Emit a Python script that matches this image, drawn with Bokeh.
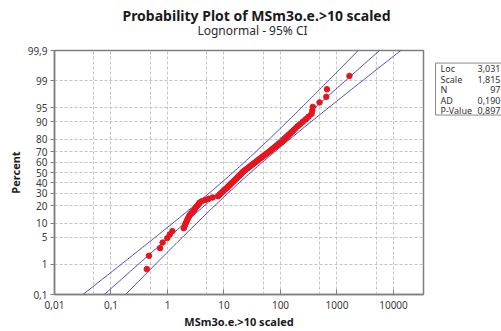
from statistics import NormalDist
import numpy as np
from bokeh.plotting import figure
from bokeh.layouts import column, row
from bokeh.models import Range1d, FixedTicker, CustomJSTickFormatter
from bokeh.core.properties import value
from bokeh.embed import file_html
from bokeh.resources import INLINE

TITLE = "Probability Plot of MSm3o.e.>10 scaled"
SUBTITLE = "Lognormal - 95% CI"
X_LABEL = "MSm3o.e.>10 scaled"
Y_LABEL = "Percent"

# fitted parameters shown in the stats box
loc = 3.031
scale = 1.815
n_obs = 97
stat_names = ["Loc", "Scale", "N", "AD", "P-Value"]
stat_values = ["3,031", "1,815", "97", "0,190", "0,897"]

# ordered sample values
x_values = [0.43, 0.47, 0.74, 0.82, 0.99, 1.10, 1.22, 1.94, 2.02, 2.10,
            2.19, 2.28, 2.38, 2.47, 2.63, 2.79, 2.97, 3.09, 3.22, 3.42,
            3.57, 3.71, 4.03, 4.64, 5.35, 6.29, 7.83, 8.23, 8.64, 9.11,
            9.57, 10.0, 10.5, 11.1, 11.6, 12.1, 12.7, 13.2, 13.8, 14.5,
            15.1, 15.8, 16.5, 17.2, 17.9, 18.8, 19.6, 20.4, 20.9, 22.0,
            23.2, 24.4, 25.9, 27.3, 28.8, 30.3, 32.2, 34.0, 36.0, 37.9,
            40.1, 42.3, 45.0, 47.6, 50.4, 53.7, 56.9, 60.7, 64.5, 68.9,
            72.8, 78.0, 83.3, 89.3, 95.3, 102, 110, 117, 124, 132,
            140, 150, 161, 172, 186, 202, 224, 248, 281, 314,
            355, 365, 372, 491, 646, 664, 1660]

# plotting positions (percent, median ranks)
percent_values = [0.72, 1.75, 2.77, 3.80, 4.83, 5.85, 6.88, 7.91, 8.93, 9.96,
                  10.99, 12.01, 13.04, 14.07, 15.09, 16.12, 17.15, 18.17, 19.20, 20.23,
                  21.25, 22.28, 23.31, 24.33, 25.36, 26.39, 27.41, 28.44, 29.47, 30.49,
                  31.52, 32.55, 33.57, 34.60, 35.63, 36.65, 37.68, 38.71, 39.73, 40.76,
                  41.79, 42.81, 43.84, 44.87, 45.89, 46.92, 47.95, 48.97, 50.00, 51.03,
                  52.05, 53.08, 54.11, 55.13, 56.16, 57.19, 58.21, 59.24, 60.27, 61.29,
                  62.32, 63.35, 64.37, 65.40, 66.43, 67.45, 68.48, 69.51, 70.53, 71.56,
                  72.59, 73.61, 74.64, 75.67, 76.69, 77.72, 78.75, 79.77, 80.80, 81.83,
                  82.85, 83.88, 84.91, 85.93, 86.96, 87.99, 89.01, 90.04, 91.07, 92.09,
                  93.12, 94.15, 95.17, 96.20, 97.23, 98.25, 99.28]

y_tick_percents = [0.1, 1, 5, 10, 20, 30, 40, 50, 60, 70, 80, 90, 95, 99, 99.9]
y_tick_labels = ["0,1", "1", "5", "10", "20", "30", "40", "50", "60", "70",
                 "80", "90", "95", "99", "99,9"]
x_tick_values = [0.01, 0.1, 1, 10, 100, 1000, 10000]
x_tick_labels = ["0,01", "0,1", "1", "10", "100", "1000", "10000"]
x_grid_values = [0.05, 0.1, 0.5, 1, 5, 10, 50, 100, 500, 1000, 5000, 10000]

nd = NormalDist()


def probit(pct):
    return nd.inv_cdf(pct / 100.0)


FONT = "Noto Sans"
LINE_COLOR = "#4b4bc4"
FRAME_COLOR = "#7f7f7f"

W, H = 501, 331
TOP_H = 40               # height of the title strip
FL, FR, FT, FB = 54, 423, 50, 294   # frame in canvas px
MAIN_W = FR + 10
SIDE_W = W - MAIN_W
BODY_H = H - TOP_H

# ---------------- title strip ----------------
t = figure(width=W, height=TOP_H, x_range=Range1d(0, W), y_range=Range1d(TOP_H, 0),
           output_backend="svg", toolbar_location=None, title=None,
           min_border=0, x_axis_type=None, y_axis_type=None)
t.outline_line_color = None
t.background_fill_color = "white"
t.border_fill_color = "white"
t.grid.visible = False
t.text(x=[256], y=[15], text=[TITLE], text_font=value(FONT), text_font_size="14px",
       text_font_style="bold", text_color="#1a1a1a", text_align="center",
       text_baseline="middle")
t.text(x=[252], y=[30], text=[SUBTITLE], text_font=value(FONT), text_font_size="12px",
       text_color="#2a2a2a", text_align="center", text_baseline="middle")

# ---------------- main probability plot ----------------
z_lo, z_hi = probit(y_tick_percents[0]), probit(y_tick_percents[-1])

p = figure(width=MAIN_W, height=BODY_H, x_axis_type="log",
           x_range=Range1d(0.01, 10 ** 4.531), y_range=Range1d(z_lo, z_hi),
           output_backend="svg", toolbar_location=None, title=None,
           min_border_left=FL, min_border_right=MAIN_W - FR,
           min_border_top=FT - TOP_H, min_border_bottom=H - FB)
p.background_fill_color = "white"
p.border_fill_color = "white"
p.outline_line_color = FRAME_COLOR
p.outline_line_width = 1.5

p.xaxis.ticker = FixedTicker(ticks=x_tick_values)
p.xaxis.formatter = CustomJSTickFormatter(
    args=dict(tvals=x_tick_values, tlabels=x_tick_labels),
    code="""
let best = 0;
for (let i = 0; i < tvals.length; i++) {
  if (Math.abs(Math.log10(tvals[i]) - Math.log10(tick)) <
      Math.abs(Math.log10(tvals[best]) - Math.log10(tick))) best = i;
}
return tlabels[best];
""")
y_ticks = [probit(v) for v in y_tick_percents]
p.yaxis.ticker = FixedTicker(ticks=y_ticks)
p.yaxis.formatter = CustomJSTickFormatter(
    args=dict(tvals=y_ticks, tlabels=y_tick_labels),
    code="""
let best = 0;
for (let i = 0; i < tvals.length; i++) {
  if (Math.abs(tvals[i] - tick) < Math.abs(tvals[best] - tick)) best = i;
}
return tlabels[best];
""")

for ax in (p.xaxis[0], p.yaxis[0]):
    ax.axis_line_color = FRAME_COLOR
    ax.axis_line_width = 1.5
    ax.major_tick_line_color = FRAME_COLOR
    ax.minor_tick_line_color = None
    ax.major_label_text_font = FONT
    ax.major_label_text_font_size = "10px"
    ax.major_label_text_color = "#3a3a3a"
    ax.axis_label_text_font = FONT
    ax.axis_label_text_font_size = "11px"
    ax.axis_label_text_font_style = "bold"
    ax.axis_label_text_color = "#1a1a1a"

p.xaxis.axis_label = X_LABEL
p.yaxis.axis_label = Y_LABEL
p.xaxis.major_tick_in = 5
p.xaxis.major_tick_out = 0
p.xaxis.major_label_standoff = 6
p.xaxis.axis_label_standoff = 2
p.yaxis.major_tick_in = 0
p.yaxis.major_tick_out = 4
p.yaxis.major_label_standoff = 3
p.yaxis.axis_label_standoff = 2

p.xgrid.ticker = FixedTicker(ticks=x_grid_values)
p.ygrid.ticker = FixedTicker(ticks=[probit(v) for v in y_tick_percents[1:-1]])
for g in (p.xgrid[0], p.ygrid[0]):
    g.grid_line_color = "#c4c4c4"
    g.grid_line_dash = "3 2"
    g.grid_line_width = 1

# fitted line and 95% confidence bounds from the parameters
zz = np.linspace(-3.6, 3.6, 145)
ln_fit = loc + scale * zz
se = scale * np.sqrt(1.0 / n_obs + zz ** 2 / (2.0 * n_obs))
zc = nd.inv_cdf(0.975)
p.line(np.exp(ln_fit), zz, line_color=LINE_COLOR, line_width=1)
p.line(np.exp(ln_fit - zc * se), zz, line_color=LINE_COLOR, line_width=1)
p.line(np.exp(ln_fit + zc * se), zz, line_color=LINE_COLOR, line_width=1)

p.scatter(x_values, [probit(v) for v in percent_values], size=5.5,
          fill_color="#e8141c", line_color="#e8141c")

# ---------------- stats box ----------------
s = figure(width=SIDE_W, height=BODY_H, x_range=Range1d(0, SIDE_W),
           y_range=Range1d(BODY_H, 0), output_backend="svg",
           toolbar_location=None, title=None, min_border=0,
           x_axis_type=None, y_axis_type=None)
s.outline_line_color = None
s.background_fill_color = "white"
s.border_fill_color = "white"
s.grid.visible = False
s.quad(left=[2], right=[SIDE_W + 20], top=[55 - TOP_H], bottom=[117 - TOP_H],
       fill_color="white", line_color="#8a8a8a", line_width=1)
row_y = [62 - TOP_H, 74.5 - TOP_H, 87 - TOP_H, 99.5 - TOP_H, 111.5 - TOP_H]
s.text(x=[7] * len(stat_names), y=row_y, text=stat_names, text_font=value(FONT),
       text_font_size="9px", text_color="#333333", text_align="left",
       text_baseline="middle")
s.text(x=[SIDE_W - 1] * len(stat_values), y=row_y, text=stat_values,
       text_font=value(FONT), text_font_size="9px", text_color="#333333",
       text_align="right", text_baseline="middle")

layout = column(t, row(p, s, spacing=0), spacing=0)
open("out.html", "w").write(file_html(layout, INLINE))
